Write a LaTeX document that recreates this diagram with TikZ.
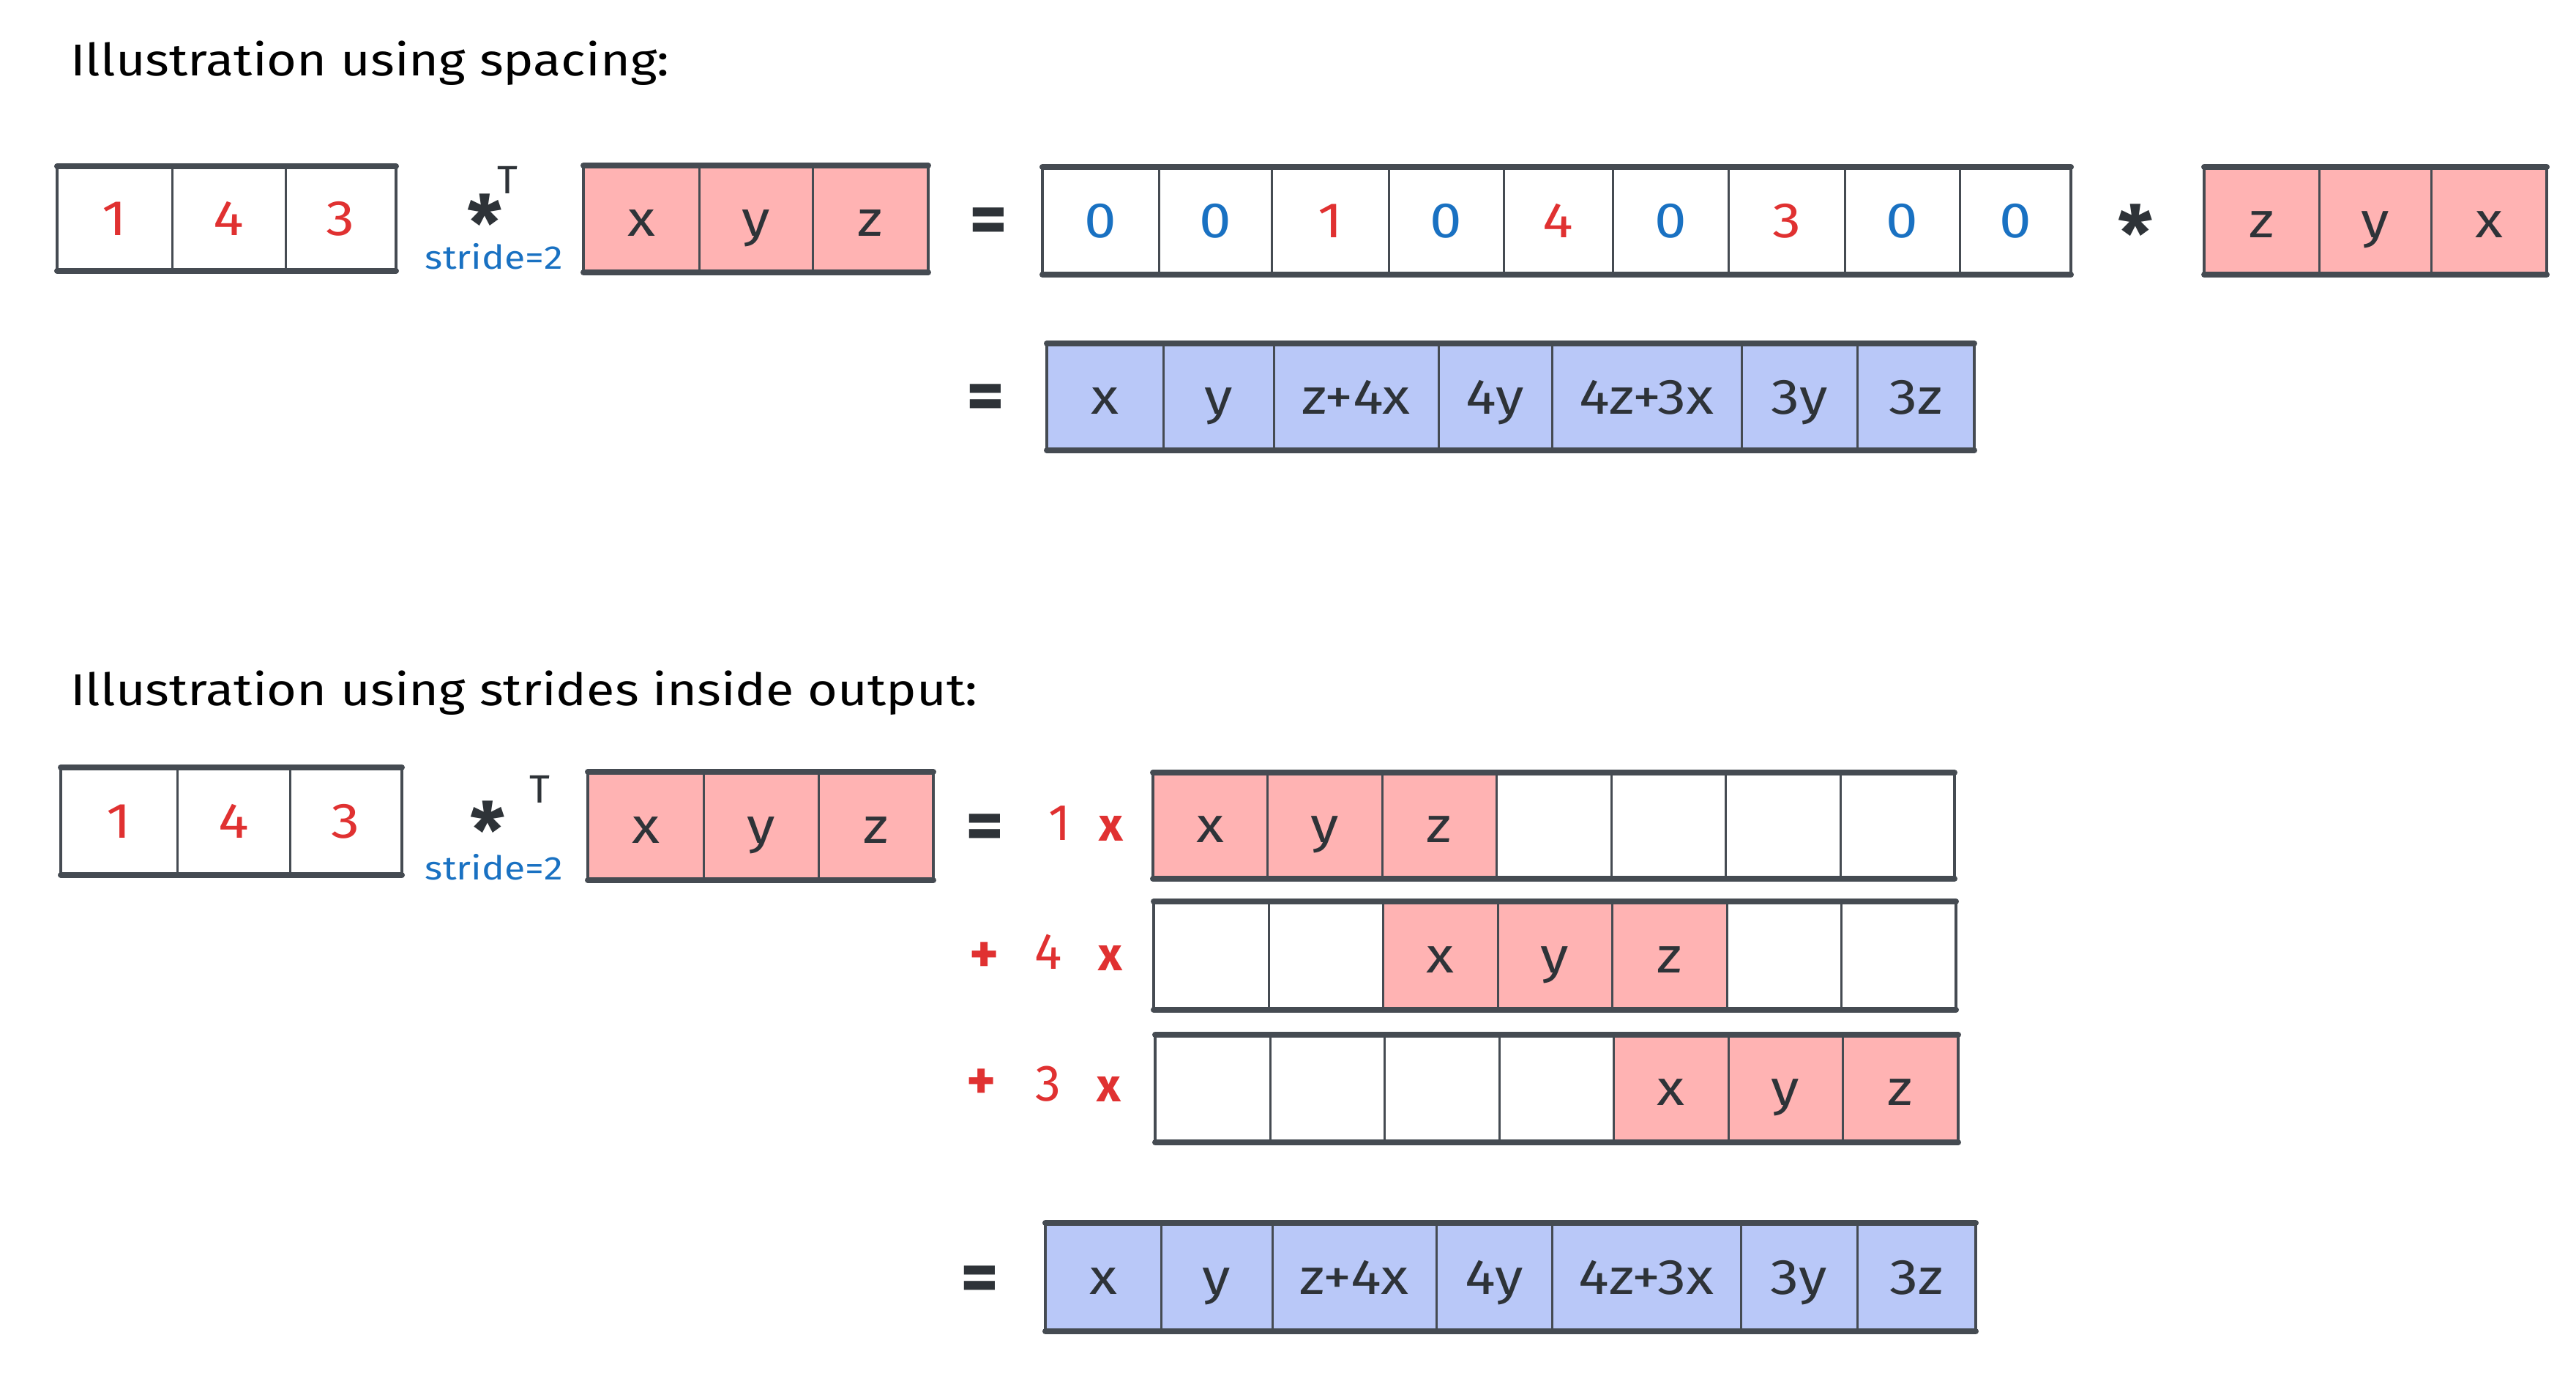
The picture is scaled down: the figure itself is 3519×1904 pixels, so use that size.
\documentclass[tikz,border=0pt]{standalone}
\usepackage{fontspec}
\setmainfont{Fira Sans}
\newfontfamily\widefont[FakeStretch=1.15]{Fira Sans}
\definecolor{stroke}{HTML}{454B52}
\definecolor{ink}{HTML}{2E3338}
\definecolor{pinkfill}{HTML}{FFB3B3}
\definecolor{bluefill}{HTML}{B9C8F8}
\definecolor{redtxt}{HTML}{E03131}
\definecolor{bluetxt}{HTML}{1971C2}
\tikzset{
  cell/.style={draw=stroke, line width=3pt, inner sep=0pt, outer sep=0pt, text height=46pt, text depth=0pt,
    font=\widefont\fontsize{68}{68}\selectfont, text=ink},
  pinkcell/.style={cell, fill=pinkfill},
  bluecell/.style={cell, fill=bluefill},
  whitecell/.style={cell, fill=white},
  rnum/.style={text=redtxt},
  bnum/.style={text=bluetxt},
  outerside/.style={draw=stroke, line width=4.5pt},
  outertb/.style={draw=stroke, line width=8pt, line cap=round},
  titletext/.style={font=\widefont\fontsize{61}{64}\selectfont, anchor=base west, text=black, inner sep=0pt},
  eqsign/.style={font=\bfseries\fontsize{100}{100}\selectfont, text=ink, inner sep=0pt},
  starsign/.style={font=\bfseries\fontsize{106}{106}\selectfont, text=ink, inner sep=0pt, anchor=base},
  tsign/.style={font=\fontsize{54}{54}\selectfont, text=ink, inner sep=0pt},
  stridetext/.style={font=\widefont\fontsize{45}{45}\selectfont, text=bluetxt, inner sep=0pt},
  coef/.style={font=\fontsize{70}{70}\selectfont, text=redtxt, inner sep=0pt},
  coefop/.style={font=\bfseries\fontsize{64}{64}\selectfont, text=redtxt, inner sep=0pt},
  coefplus/.style={font=\bfseries\fontsize{76}{76}\selectfont, text=redtxt, inner sep=0pt},
}
\newcommand\mkcell[7]{\node[#2, minimum width={(#4)-(#3)}, minimum height={(#6)-(#5)}] (#1) at ({((#3)+(#4))/2},{((#5)+(#6))/2}) {#7};}
\newcommand\outerbox[2]{%
  \draw[outerside] (#1.north west) rectangle (#2.south east);
  \draw[outertb] (#1.north west) -- (#2.north east);
  \draw[outertb] (#1.south west) -- (#2.south east);}
\begin{document}
\begin{tikzpicture}[x=1pt, y=-1pt]
\fill[white] (0,0) rectangle (3519,1904);
\useasboundingbox (0,0) rectangle (3519,1904);

% ---------- titles ----------
\node[titletext] (t1) at (96,103) {Illustration using spacing:};
\node[titletext] (t2) at (96,963) {Illustration using strides inside output:};

% ---------- part 1 ----------
\mkcell{A1}{whitecell,rnum}{78}{235}{227}{370}{1}
\mkcell{A2}{whitecell,rnum}{235}{390}{227}{370}{4}
\mkcell{A3}{whitecell,rnum}{390}{541}{227}{370}{3}
\outerbox{A1}{A3}

\node[starsign] (s1) at (662,343) {\smash{*}};
\node[tsign] (T1) at (693,246) {T};
\node[stridetext] (st1) at (675,350) {stride=2};

\mkcell{B1}{pinkcell}{797}{955}{226}{372}{x}
\mkcell{B2}{pinkcell}{955}{1110}{226}{372}{y}
\mkcell{B3}{pinkcell}{1110}{1268}{226}{372}{z}
\outerbox{B1}{B3}

\node[eqsign] (e1) at (1350,309) {=};

\mkcell{C1}{whitecell,bnum}{1424}{1583}{228}{375}{0}
\mkcell{C2}{whitecell,bnum}{1583}{1737}{228}{375}{0}
\mkcell{C3}{whitecell,rnum}{1737}{1897}{228}{375}{1}
\mkcell{C4}{whitecell,bnum}{1897}{2054}{228}{375}{0}
\mkcell{C5}{whitecell,rnum}{2054}{2203}{228}{375}{4}
\mkcell{C6}{whitecell,bnum}{2203}{2361}{228}{375}{0}
\mkcell{C7}{whitecell,rnum}{2361}{2520}{228}{375}{3}
\mkcell{C8}{whitecell,bnum}{2520}{2677}{228}{375}{0}
\mkcell{C9}{whitecell,bnum}{2677}{2829}{228}{375}{0}
\outerbox{C1}{C9}

\node[starsign] (s2) at (2917,357) {\smash{*}};

\mkcell{D1}{pinkcell}{3011}{3168}{228}{375}{z}
\mkcell{D2}{pinkcell}{3168}{3321}{228}{375}{y}
\mkcell{D3}{pinkcell}{3321}{3479}{228}{375}{x}
\outerbox{D1}{D3}

\node[eqsign] (e2) at (1346,550) {=};
\mkcell{E1}{bluecell}{1430}{1589}{469}{615}{x}
\mkcell{E2}{bluecell}{1589}{1740}{469}{615}{y}
\mkcell{E3}{bluecell}{1740}{1965}{469}{615}{z+4x}
\mkcell{E4}{bluecell}{1965}{2120}{469}{615}{4y}
\mkcell{E5}{bluecell}{2120}{2379}{469}{615}{4z+3x}
\mkcell{E6}{bluecell}{2379}{2537}{469}{615}{3y}
\mkcell{E7}{bluecell}{2537}{2697}{469}{615}{3z}
\outerbox{E1}{E7}

% ---------- part 2 ----------
\mkcell{F1}{whitecell,rnum}{83}{242}{1048}{1195}{1}
\mkcell{F2}{whitecell,rnum}{242}{396}{1048}{1195}{4}
\mkcell{F3}{whitecell,rnum}{396}{549}{1048}{1195}{3}
\outerbox{F1}{F3}

\node[starsign] (s3) at (666,1172) {\smash{*}};
\node[tsign] (T2) at (737,1078) {T};
\node[stridetext] (st2) at (675,1184) {stride=2};

\mkcell{G1}{pinkcell}{803}{961}{1054}{1202}{x}
\mkcell{G2}{pinkcell}{961}{1118}{1054}{1202}{y}
\mkcell{G3}{pinkcell}{1118}{1275}{1054}{1202}{z}
\outerbox{G1}{G3}

\node[eqsign] (e3) at (1345,1137) {=};
\node[coef] (h1) at (1448,1124) {1};
\node[coefop] (h2) at (1518,1131) {x};
\mkcell{H1}{pinkcell}{1575}{1731}{1055}{1200}{x}
\mkcell{H2}{pinkcell}{1731}{1888}{1055}{1200}{y}
\mkcell{H3}{pinkcell}{1888}{2044}{1055}{1200}{z}
\mkcell{H4}{whitecell}{2044}{2201}{1055}{1200}{}
\mkcell{H5}{whitecell}{2201}{2357}{1055}{1200}{}
\mkcell{H6}{whitecell}{2357}{2514}{1055}{1200}{}
\mkcell{H7}{whitecell}{2514}{2670}{1055}{1200}{}
\outerbox{H1}{H7}

\node[coefplus] (i0) at (1345,1308) {+};
\node[coef] (i1) at (1432,1300) {4};
\node[coefop] (i2) at (1517,1308) {x};
\mkcell{I1}{whitecell}{1576}{1733}{1231}{1379}{}
\mkcell{I2}{whitecell}{1733}{1889}{1231}{1379}{}
\mkcell{I3}{pinkcell}{1889}{2046}{1231}{1379}{x}
\mkcell{I4}{pinkcell}{2046}{2202}{1231}{1379}{y}
\mkcell{I5}{pinkcell}{2202}{2359}{1231}{1379}{z}
\mkcell{I6}{whitecell}{2359}{2515}{1231}{1379}{}
\mkcell{I7}{whitecell}{2515}{2672}{1231}{1379}{}
\outerbox{I1}{I7}

\node[coefplus] (j0) at (1341,1481) {+};
\node[coef] (j1) at (1432,1480) {3};
\node[coefop] (j2) at (1515,1487) {x};
\mkcell{J1}{whitecell}{1578}{1735}{1413}{1560}{}
\mkcell{J2}{whitecell}{1735}{1891}{1413}{1560}{}
\mkcell{J3}{whitecell}{1891}{2048}{1413}{1560}{}
\mkcell{J4}{whitecell}{2048}{2204}{1413}{1560}{}
\mkcell{J5}{pinkcell}{2204}{2361}{1413}{1560}{x}
\mkcell{J6}{pinkcell}{2361}{2517}{1413}{1560}{y}
\mkcell{J7}{pinkcell}{2517}{2675}{1413}{1560}{z}
\outerbox{J1}{J7}

\node[eqsign] (e4) at (1338,1754) {=};
\mkcell{K1}{bluecell}{1428}{1586}{1670}{1818}{x}
\mkcell{K2}{bluecell}{1586}{1738}{1670}{1818}{y}
\mkcell{K3}{bluecell}{1738}{1962}{1670}{1818}{z+4x}
\mkcell{K4}{bluecell}{1962}{2120}{1670}{1818}{4y}
\mkcell{K5}{bluecell}{2120}{2378}{1670}{1818}{4z+3x}
\mkcell{K6}{bluecell}{2378}{2537}{1670}{1818}{3y}
\mkcell{K7}{bluecell}{2537}{2699}{1670}{1818}{3z}
\outerbox{K1}{K7}
\end{tikzpicture}
\end{document}
